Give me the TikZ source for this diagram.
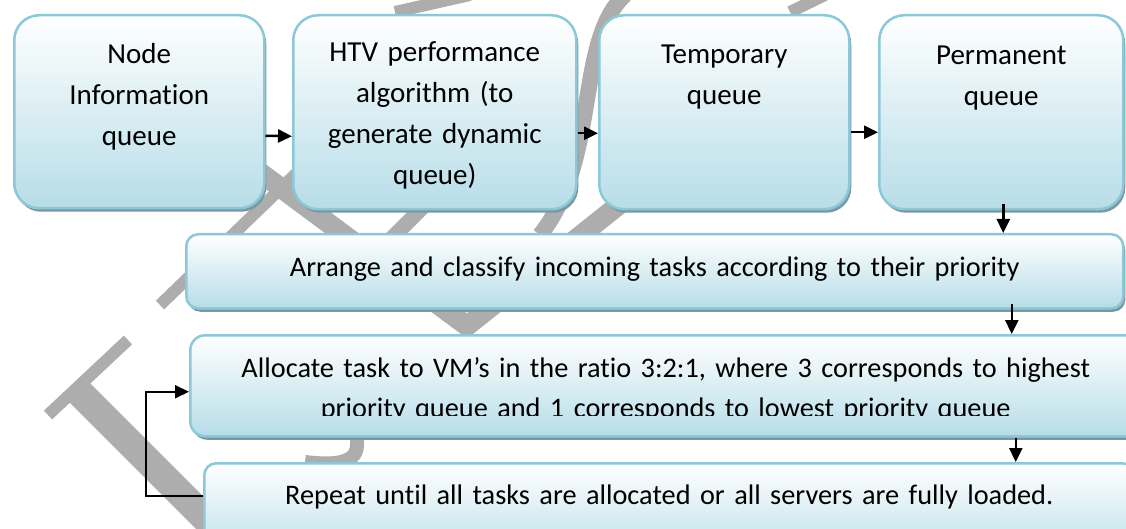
\documentclass[tikz,border=0pt]{standalone}
\usepackage{fontspec}
\setmainfont{Carlito}[Ligatures=NoCommon]
\usetikzlibrary{arrows.meta, shadows}
\definecolor{boxfill}{RGB}{183,221,232}
\definecolor{boxline}{RGB}{140,200,216}
\definecolor{boxshade}{RGB}{122,152,162}
\definecolor{wmgray}{RGB}{173,173,173}

\begin{document}
\begin{tikzpicture}[x=1pt, y=-1pt,
  qbox/.style={draw=boxline, line width=2.5pt, top color=white, bottom color=boxfill,
    anchor=north west, inner sep=0pt, align=center, font=\fontsize{29}{41}\selectfont,
    drop shadow={shadow xshift=2pt, shadow yshift=-3.5pt, fill=boxshade, opacity=1}},
  stepfont/.style={font=\fontsize{28.3}{40}\selectfont},
  flow/.style={line width=2.5pt, -{Triangle[length=14pt,width=13pt]}},
  wm/.style={wmgray, line join=round}
]
  \useasboundingbox (0,0) rectangle (1126,529);

  % watermark behind the chart
  \draw[wm, line width=12pt] (48,415) -- (128,340);
  \draw[wm, line width=28pt] (76,389) -- (235,548);
  \draw[wm, line width=12pt] (160,305) -- (305,165);
  \draw[wm, line width=20pt] (250,165) -- (467,326) -- (640,188);
  \draw[wm, line width=16pt] (625,-5) .. controls (575,40) and (600,160) .. (540,235);
  \draw[wm, line width=15pt] (380,250) -- (440,190);
  \draw[wm, line width=12pt] (395,12) -- (470,-5);
  \draw[wm, line width=12pt] (790,12) -- (825,-5);
  \draw[wm, line width=14pt] (357,400) -- (357,445) .. controls (357,465) and (330,465) .. (305,462);

  % top row of queues
  \node[qbox, text width=250pt, text height=48pt, text depth=145pt, rounded corners=25pt] (nodeinfo) at (13,14) {Node\\Information\\queue};
  \node[qbox, text width=283pt, text height=46pt, text depth=148pt, rounded corners=25pt] (htv) at (292,14) {HTV performance\\algorithm (to\\generate dynamic\\queue)};
  \node[qbox, text width=250pt, text height=48pt, text depth=146pt, rounded corners=25pt] (temp) at (598,14) {Temporary\\queue};
  \node[qbox, text width=244pt, text height=49pt, text depth=145pt, rounded corners=25pt] (perm) at (878,14) {Permanent\\queue};

  % task steps
  \node[qbox, stepfont, text width=937pt, text height=42pt, text depth=32pt, rounded corners=12pt] (arrange) at (185,233) {Arrange and classify incoming tasks according to their priority};
  \node[qbox, text width=951pt, text height=43pt, text depth=58pt, rounded corners=15pt] (allocate) at (189,334) {};
  \begin{scope}
    \clip (allocate.north west) rectangle ([yshift=22pt]allocate.south east);
    \node[stepfont, anchor=base, inner sep=0pt, text width=951pt, align=center] (alloctext) at ([yshift=-43pt]allocate.north)
      {Allocate task to VM’s in the ratio 3:2:1, where 3 corresponds to highest\\priority queue and 1 corresponds to lowest priority queue\hspace*{28pt}};
  \end{scope}
  \node[qbox, stepfont, text width=930pt, text height=41pt, text depth=60pt, rounded corners=12pt] (repeat) at (203,462) {Repeat until all tasks are allocated or all servers are fully loaded.};

  % connectors
  \draw[flow] ([yshift=-24pt]nodeinfo.east) -- ([yshift=-24pt]htv.west);
  \draw[flow] ([yshift=-21pt]htv.east) -- ([yshift=-21pt]temp.west);
  \draw[flow] ([yshift=-20pt]temp.east) -- ([yshift=-20pt]perm.west);
  \draw[flow] ([xshift=2pt,yshift=6pt]perm.south) -- ([xshift=2pt]perm.south |- arrange.north);
  \draw[flow] ([xshift=357pt,yshift=6pt]arrange.south) -- ([xshift=357pt]arrange.south |- allocate.north);
  \draw[flow] ([xshift=350pt]allocate.south) -- ([xshift=350pt]allocate.south |- repeat.north);
  \draw[line width=2pt, -{Triangle[length=14pt,width=13pt]}] ([yshift=18pt]repeat.west) -- ++(-57,0) |- ([yshift=-6pt]allocate.west);
\end{tikzpicture}
\end{document}
